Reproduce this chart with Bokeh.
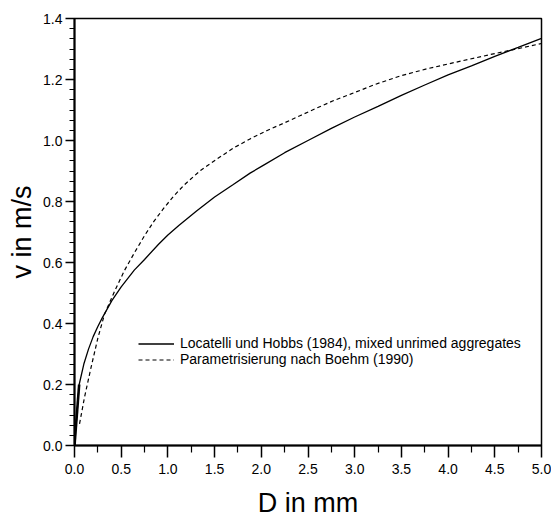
from bokeh.plotting import figure
from bokeh.models import Range1d, FixedTicker, PrintfTickFormatter, Legend, LegendItem
from bokeh.embed import file_html
from bokeh.resources import INLINE

# Locatelli und Hobbs (1984), mixed unrimed aggregates
D_lh = [0.0, 0.05, 0.1, 0.15, 0.2, 0.25, 0.3, 0.4, 0.5, 0.64, 0.75, 0.9, 1.0, 1.12, 1.31, 1.5, 1.7, 1.88,
        2.03, 2.25, 2.5, 2.75, 3.0, 3.25, 3.5, 3.75, 4.0, 4.25, 4.5, 4.75, 5.0]
v_lh = [0.0, 0.20, 0.267, 0.316, 0.357, 0.39, 0.42, 0.475, 0.52, 0.575, 0.61, 0.66, 0.69, 0.722, 0.77, 0.815,
        0.856, 0.893, 0.92, 0.96, 1.0, 1.04, 1.077, 1.112, 1.148, 1.182, 1.215, 1.245, 1.276, 1.305, 1.335]

# Parametrisierung nach Boehm (1990)
D_bo = [0.054, 0.107, 0.178, 0.25, 0.321, 0.428, 0.535, 0.642, 0.75, 0.85, 0.956, 1.06, 1.17, 1.349, 1.528,
        1.706, 1.884, 2.063, 2.241, 2.42, 2.598, 2.776, 2.955, 3.22, 3.49, 3.76, 4.03, 4.5, 4.7, 5.0]
v_bo = [0.071, 0.158, 0.257, 0.352, 0.43, 0.505, 0.574, 0.632, 0.688, 0.735, 0.778, 0.817, 0.853, 0.902, 0.940,
        0.976, 1.006, 1.033, 1.057, 1.082, 1.107, 1.131, 1.152, 1.184, 1.212, 1.234, 1.253, 1.285, 1.298, 1.318]

x_ticks = [0.0, 0.5, 1.0, 1.5, 2.0, 2.5, 3.0, 3.5, 4.0, 4.5, 5.0]
x_minor = [0.25, 0.75, 1.25, 1.75, 2.25, 2.75, 3.25, 3.75, 4.25, 4.75]
y_ticks = [0.0, 0.2, 0.4, 0.6, 0.8, 1.0, 1.2, 1.4]
y_minor_step = 0.2 / 6

labels = ["Locatelli und Hobbs (1984), mixed unrimed aggregates",
          "Parametrisierung nach Boehm (1990)"]
x_label = "D in mm"
y_label = "v in m/s"

FONT = "Liberation Sans"

p = figure(width=551, height=523, output_backend="svg", toolbar_location=None,
           x_range=Range1d(0, 5), y_range=Range1d(0, 1.4),
           min_border_left=74, min_border_right=10, min_border_top=18, min_border_bottom=78)
p.background_fill_color = "white"
p.border_fill_color = "white"
p.outline_line_color = "black"
p.outline_line_width = 1.5
p.xgrid.visible = False
p.ygrid.visible = False

r1 = p.line(D_lh, v_lh, line_color="black", line_width=1.3)
p.line(D_lh[:2], v_lh[:2], line_color="black", line_width=2.6)
r2 = p.line(D_bo, v_bo, line_color="black", line_width=1.2, line_dash="4 3")

y_minor = [round(i * y_minor_step, 4) for i in range(int(round(1.4 / y_minor_step)) + 1)
           if i % 6 != 0]

xa = p.xaxis[0]
xa.ticker = FixedTicker(ticks=x_ticks, minor_ticks=x_minor)
xa.formatter = PrintfTickFormatter(format="%.1f")
xa.major_tick_out = 12
xa.major_tick_in = 0
xa.minor_tick_out = 7
xa.minor_tick_in = 0
xa.major_label_standoff = 6
xa.axis_label = x_label
xa.axis_label_standoff = 11

ya = p.yaxis[0]
ya.ticker = FixedTicker(ticks=y_ticks, minor_ticks=y_minor)
ya.formatter = PrintfTickFormatter(format="%.1f")
ya.major_tick_out = 9
ya.major_tick_in = 0
ya.minor_tick_out = 5
ya.minor_tick_in = 0
ya.major_label_standoff = 3
ya.axis_label = y_label
ya.axis_label_standoff = 3

for ax in (xa, ya):
    ax.axis_line_color = "black"
    ax.axis_line_width = 2
    ax.major_tick_line_color = "black"
    ax.minor_tick_line_color = "black"
    ax.major_tick_line_width = 1.5
    ax.minor_tick_line_width = 1.2
    ax.major_label_text_font = FONT
    ax.major_label_text_font_size = "14px"
    ax.major_label_text_color = "black"
    ax.axis_label_text_font = FONT
    ax.axis_label_text_font_size = "27px"
    ax.axis_label_text_font_style = "normal"
    ax.axis_label_text_color = "black"

legend = Legend(items=[LegendItem(label=labels[0], renderers=[r1]),
                       LegendItem(label=labels[1], renderers=[r2])],
                location=(64, 78))
legend.border_line_color = None
legend.background_fill_alpha = 0
legend.label_text_font = FONT
legend.label_text_font_size = "14px"
legend.label_text_color = "black"
legend.glyph_width = 36
legend.glyph_height = 15
legend.label_height = 15
legend.label_standoff = 6
legend.spacing = 0
legend.padding = 0
legend.margin = 0
p.add_layout(legend, "center")

open("out.html", "w").write(file_html(p, INLINE))
